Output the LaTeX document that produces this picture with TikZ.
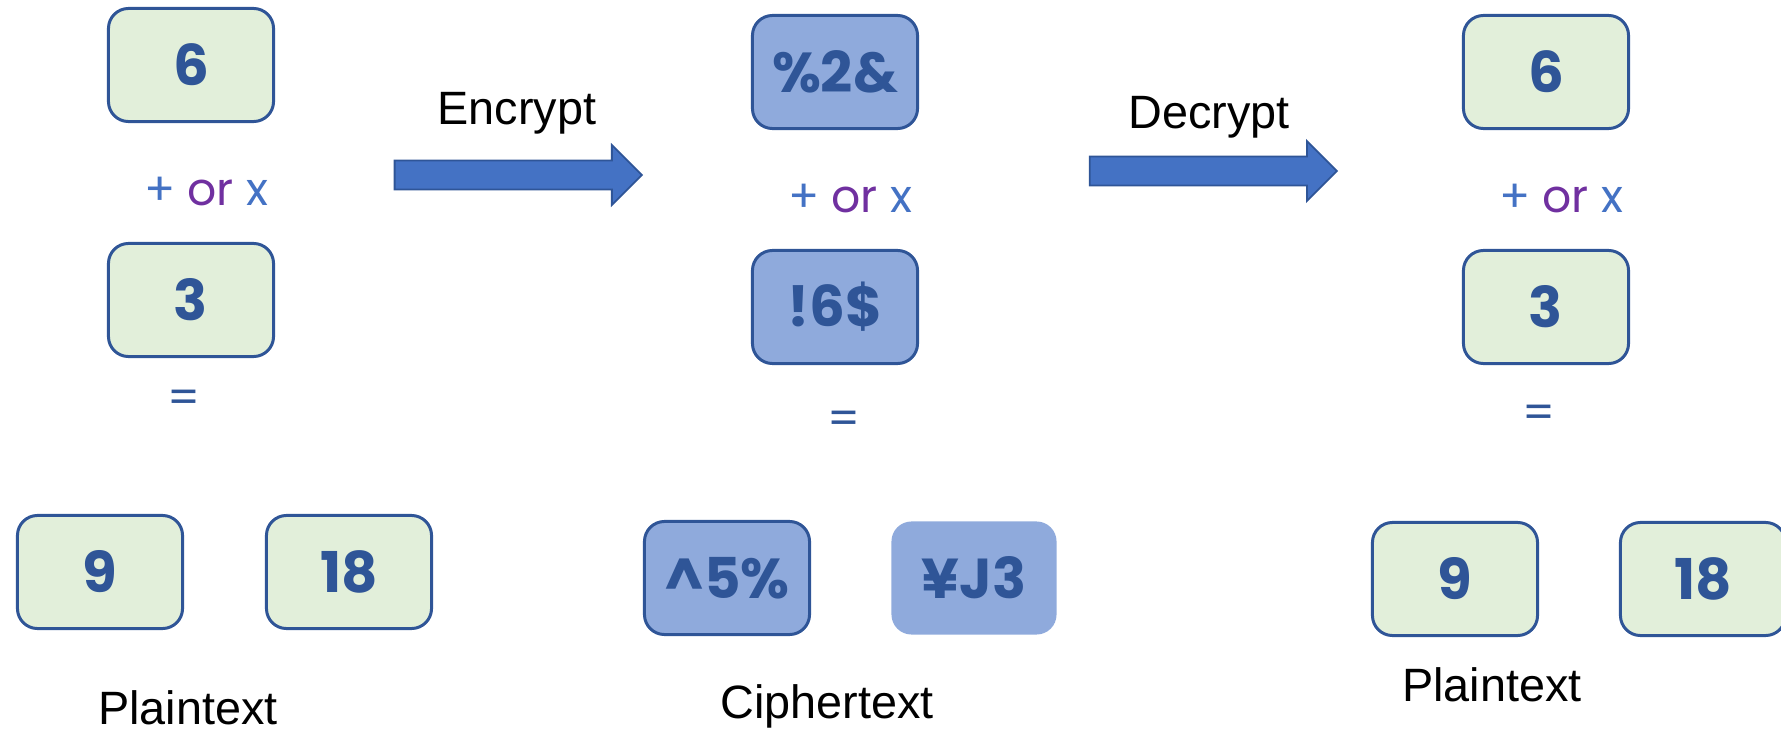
\documentclass[tikz,border=0pt]{standalone}
\usepackage{fontspec}
\setmainfont{Liberation Sans}
\newfontfamily\numfont{Poppins}
\usetikzlibrary{shapes.arrows}

\definecolor{boxline}{HTML}{2F5597}
\definecolor{plainfill}{HTML}{E2EFDA}
\definecolor{cipherfill}{HTML}{8FAADC}
\definecolor{arrowfill}{HTML}{4472C4}
\definecolor{orpurple}{HTML}{7030A0}

\begin{document}
\begin{tikzpicture}[
    x=0.01cm, y=-0.01cm,
    numbox/.style={rectangle, rounded corners=0.2cm, draw=boxline, line width=0.85pt,
        minimum width=1.65cm, minimum height=1.13cm, inner sep=0pt, text=boxline,
        font=\numfont\bfseries\fontsize{16}{16}\selectfont},
    plain/.style={numbox, fill=plainfill},
    cipher/.style={numbox, fill=cipherfill},
    op/.style={anchor=base, text=arrowfill, font=\numfont\fontsize{13}{13}\selectfont},
    equals/.style={text=boxline, inner sep=0pt, font=\numfont\fontsize{13}{13}\selectfont},
    caption/.style={anchor=base, font=\fontsize{13.3}{13.3}\selectfont},
    blockarrow/.style={single arrow, draw=boxline, fill=arrowfill, line width=0.5pt,
        minimum height=2.47cm, minimum width=0.58cm, single arrow head extend=0.155cm,
        single arrow tip angle=90, inner xsep=0pt, inner ysep=0.135cm}
]
    \useasboundingbox (0,0) rectangle (1781,730);

    % plaintext in
    \node[plain] (a6) at (191,65) {6};
    \node[op] (aop) at (206,205) {+ \textcolor{orpurple}{or} x};
    \node[plain] (a3) at (191,300) {3};
    \node[equals] (aeq) at (184,402) {=};
    \node[plain] (a9) at (100,572) {9};
    \node[plain] (a18) at (349,572) {18};
    \node[caption] (aname) at (188,724) {Plaintext};

    % ciphertext
    \node[cipher] (b6) at (835,72) {\%2\&};
    \node[op] (bop) at (850,212) {+ \textcolor{orpurple}{or} x};
    \node[cipher] (b3) at (835,307) {!6\$};
    \node[equals] (beq) at (844,423) {=};
    \node[cipher] (b9) at (727,578) {\textasciicircum5\%};
    \node[cipher, draw=none] (b18) at (974,578) {¥J3};
    \node[caption] (bname) at (827,718) {Ciphertext};

    % plaintext out
    \node[plain] (c6) at (1546,72) {6};
    \node[op] (cop) at (1561,212) {+ \textcolor{orpurple}{or} x};
    \node[plain] (c3) at (1546,307) {3};
    \node[equals] (ceq) at (1539,417) {=};
    \node[plain] (c9) at (1455,579) {9};
    \node[plain] (c18) at (1703,579) {18};
    \node[caption] (cname) at (1492,701) {Plaintext};

    % arrows
    \node[blockarrow] (enc) at (511,175) {};
    \node[caption] (enclabel) at (517,124) {Encrypt};
    \node[blockarrow] (dec) at (1206,171) {};
    \node[caption] (declabel) at (1209,128) {Decrypt};
\end{tikzpicture}
\end{document}
